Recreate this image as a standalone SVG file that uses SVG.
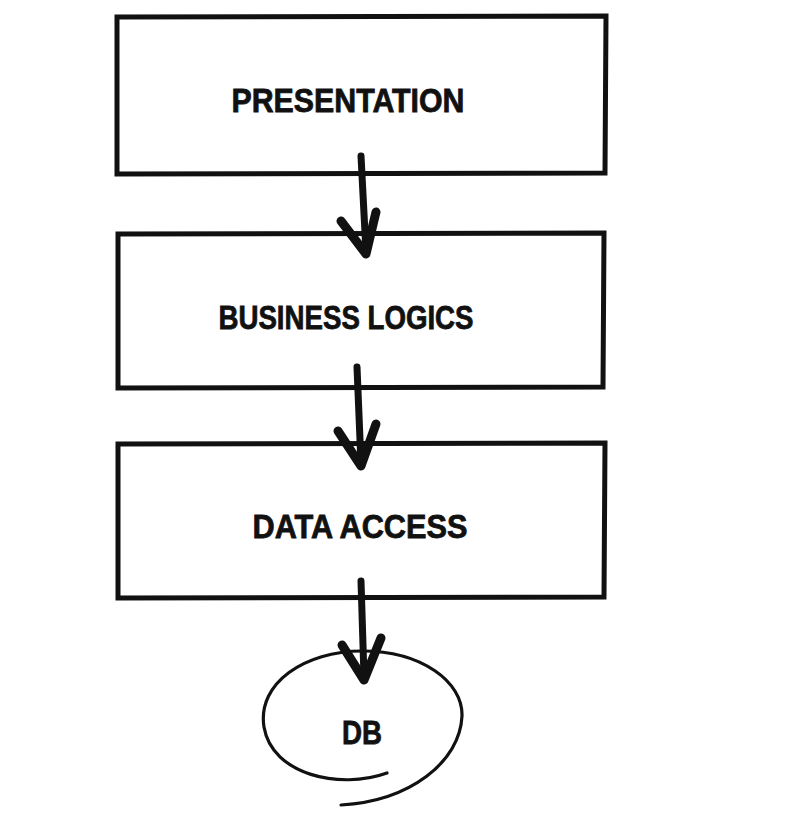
<svg xmlns="http://www.w3.org/2000/svg" width="787" height="826" viewBox="0 0 787 826">
<style>
.box{fill:none;stroke:#111;stroke-width:5;stroke-linejoin:miter}
.lbl{font-family:"Liberation Sans",Arial,sans-serif;font-weight:bold;font-size:34px;fill:#111;text-anchor:middle;stroke:#111;stroke-width:0.8}
.shaft{fill:none;stroke:#111;stroke-width:7;stroke-linecap:round}
.head{fill:none;stroke:#111;stroke-width:9;stroke-linecap:round;stroke-linejoin:round}
.db{fill:none;stroke:#111;stroke-width:3.2;stroke-linecap:round}
</style>
<rect width="787" height="826" fill="#fff"/>
<g id="presentation">
<path class="box" d="M117 17 L606 16 L605 173 L117 174 Z"/>
<text class="lbl" x="348" y="112" textLength="233" lengthAdjust="spacingAndGlyphs">PRESENTATION</text>
</g>
<g id="business-logics">
<path class="box" d="M118 234 L604 233 L603 387 L118 388 Z"/>
<text class="lbl" x="346" y="329" textLength="255" lengthAdjust="spacingAndGlyphs">BUSINESS LOGICS</text>
</g>
<g id="data-access">
<path class="box" d="M118 444 L605 443 L604 597 L118 598 Z"/>
<text class="lbl" x="360" y="538" textLength="215" lengthAdjust="spacingAndGlyphs">DATA ACCESS</text>
</g>
<g id="db">
<path class="db" d="M387 773 C340 790 272 775 264 727 C257 683 305 651 362 651 C422 651 463 682 462 716 C460 762 410 801 341 805"/>
<text class="lbl" x="362" y="744" textLength="40" lengthAdjust="spacingAndGlyphs">DB</text>
</g>
<g id="connectors">
<path class="shaft" d="M361 156 L366 252"/>
<path class="head" d="M341 221 L366 254 L376 212"/>
<path class="shaft" d="M357 367 L361 464"/>
<path class="head" d="M338 431 L361 466 L376 424"/>
<path class="shaft" d="M361 581 L364 677"/>
<path class="head" d="M342 645 L364 680 L381 638"/>
</g>
</svg>
